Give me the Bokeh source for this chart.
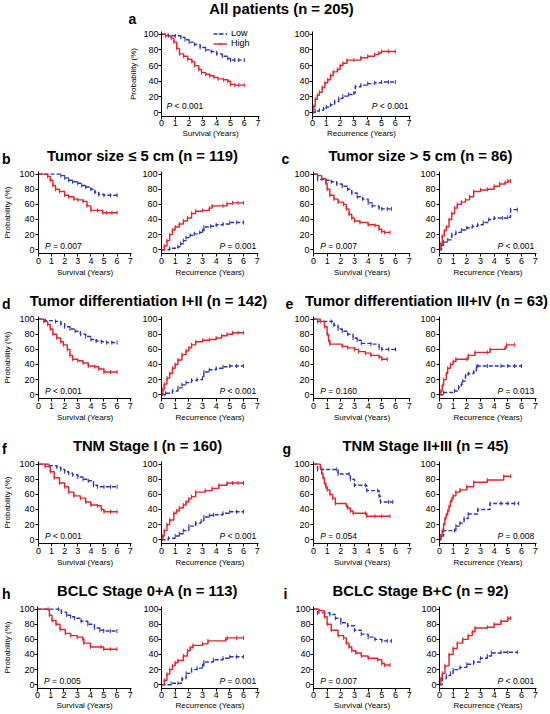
import math
from bokeh.plotting import figure
from bokeh.models import Range1d, FixedTicker, Label, Legend, LegendItem, Spacer
from bokeh.layouts import row, column
from bokeh.embed import file_html
from bokeh.resources import INLINE

# ---------------- data ----------------
X_TICKS = [0, 1, 2, 3, 4, 5, 6, 7]
Y_TICKS = [0, 20, 40, 60, 80, 100]
LEGEND_LABELS = ["Low", "High"]
PANEL_LETTERS = ["a", "b", "c", "d", "e", "f", "g", "h", "i"]
PANEL_TITLES = ["All patients (n = 205)", "Tumor size \u2264 5 cm (n = 119)", "Tumor size > 5 cm (n = 86)",
                "Tumor differentiation I+II (n = 142)", "Tumor differentiation III+IV (n = 63)",
                "TNM Stage I (n = 160)", "TNM Stage II+III (n = 45)",
                "BCLC Stage 0+A (n = 113)", "BCLC Stage B+C (n = 92)"]
P_SURVIVAL = ["< 0.001", "= 0.007", "= 0.007", "< 0.001", "= 0.160", "< 0.001", "= 0.054", "= 0.005", "= 0.007"]
P_RECURRENCE = ["< 0.001", "= 0.001", "< 0.001", "< 0.001", "= 0.013", "< 0.001", "= 0.008", "= 0.001", "< 0.001"]

A_OS_HIGH_T = [0, 0.3, 0.7, 0.9, 1.1, 1.3, 1.6, 1.9, 2.2, 2.4, 2.7, 2.9, 3.2, 3.5, 3.8, 4.1, 4.5, 4.8, 5.0, 5.3, 5.6, 6.0]
A_OS_HIGH_V = [100, 98, 95, 90, 82, 75, 72, 68, 65, 60, 55, 51, 49, 47, 45, 43, 42, 40, 36, 35, 35, 35]
A_OS_LOW_T = [0, 0.5, 1.0, 1.4, 1.7, 2.0, 2.4, 2.8, 3.2, 3.6, 4.0, 4.4, 4.8, 5.0, 5.3, 5.6, 6.0]
A_OS_LOW_V = [100, 98, 98, 96, 93, 90, 87, 83, 80, 78, 75, 72, 69, 67, 67, 67, 67]
A_REC_HIGH_T = [0, 0.1, 0.2, 0.35, 0.5, 0.7, 0.9, 1.1, 1.3, 1.5, 1.8, 2.0, 2.2, 2.5, 3.0, 3.5, 4.0, 4.5, 4.8, 5.0, 5.5, 6.0]
A_REC_HIGH_V = [0, 8, 17, 22, 26, 32, 38, 42, 47, 52, 55, 60, 63, 67, 67, 70, 72, 74, 76, 78, 78, 78]
A_REC_LOW_T = [0, 0.2, 0.5, 0.8, 1.0, 1.3, 1.6, 1.9, 2.2, 2.6, 3.0, 3.1, 3.5, 4.0, 4.5, 5.0, 5.5, 6.0]
A_REC_LOW_V = [0, 2, 3, 5, 7, 10, 14, 18, 21, 23, 25, 33, 35, 37, 38, 39, 39, 39]

B_OS_HIGH_T = [0, 0.7, 0.9, 1.1, 1.3, 1.6, 2.0, 2.3, 2.7, 3.0, 3.4, 3.7, 4.0, 4.5, 4.9, 5.2, 5.6, 6.0]
B_OS_HIGH_V = [100, 97, 92, 85, 80, 77, 72, 70, 67, 66, 64, 58, 52, 52, 49, 49, 49, 49]
B_OS_LOW_T = [0, 1.7, 2.0, 2.3, 2.6, 3.0, 3.3, 3.6, 4.0, 4.3, 4.6, 5.0, 5.5, 6.0]
B_OS_LOW_V = [100, 98, 95, 92, 90, 88, 85, 83, 80, 76, 73, 72, 72, 72]
B_REC_HIGH_T = [0, 0.2, 0.4, 0.6, 0.8, 1.0, 1.3, 1.6, 1.9, 2.2, 2.5, 3.0, 3.5, 3.7, 4.5, 4.8, 5.2, 5.6, 6.0]
B_REC_HIGH_V = [0, 5, 12, 20, 26, 30, 34, 38, 42, 48, 51, 52, 55, 58, 58, 61, 62, 62, 62]
B_REC_LOW_T = [0, 0.6, 1.2, 1.4, 1.6, 1.8, 2.1, 2.4, 2.8, 3.0, 3.1, 3.6, 4.0, 4.5, 5.0, 5.5, 6.0]
B_REC_LOW_V = [0, 2, 4, 8, 12, 16, 19, 21, 23, 25, 30, 31, 33, 34, 36, 36, 36]

C_OS_HIGH_T = [0, 0.3, 0.6, 0.9, 1.0, 1.2, 1.5, 1.8, 2.2, 2.4, 2.6, 2.8, 3.0, 3.4, 4.0, 4.5, 4.8, 5.0, 5.2, 5.6]
C_OS_HIGH_V = [100, 98, 94, 88, 80, 72, 67, 63, 60, 54, 47, 42, 38, 36, 33, 32, 27, 24, 23, 23]
C_OS_LOW_T = [0, 0.3, 0.9, 1.3, 1.7, 2.1, 2.5, 2.8, 3.2, 3.6, 4.0, 4.3, 4.8, 5.0, 5.4, 5.7]
C_OS_LOW_V = [100, 93, 92, 90, 87, 84, 80, 75, 70, 67, 62, 58, 55, 54, 54, 54]
C_REC_HIGH_T = [0, 0.1, 0.2, 0.35, 0.5, 0.7, 0.9, 1.1, 1.3, 1.6, 1.9, 2.2, 2.5, 3.0, 3.5, 4.0, 4.4, 4.8, 5.0, 5.2]
C_REC_HIGH_V = [0, 8, 18, 25, 30, 40, 48, 55, 60, 63, 66, 70, 77, 79, 80, 84, 87, 89, 91, 91]
C_REC_LOW_T = [0, 0.15, 0.3, 0.6, 0.9, 1.2, 1.6, 2.0, 2.4, 2.8, 3.2, 3.6, 4.0, 4.6, 5.0, 5.2, 5.7]
C_REC_LOW_V = [0, 6, 10, 13, 20, 23, 26, 29, 31, 33, 36, 40, 42, 42, 43, 53, 53]

D_OS_HIGH_T = [0, 0.4, 0.7, 0.9, 1.1, 1.4, 1.7, 1.9, 2.2, 2.4, 2.6, 3.0, 3.4, 3.8, 4.3, 4.6, 5.0, 5.5, 6.0]
D_OS_HIGH_V = [100, 97, 93, 87, 80, 75, 70, 66, 60, 52, 47, 45, 42, 38, 37, 34, 30, 30, 30]
D_OS_LOW_T = [0, 0.5, 1.3, 1.7, 2.0, 2.4, 2.8, 3.2, 3.6, 4.0, 4.4, 4.8, 5.2, 5.6, 6.0]
D_OS_LOW_V = [100, 98, 97, 94, 90, 87, 84, 80, 77, 73, 71, 70, 69, 69, 69]
D_REC_HIGH_T = [0, 0.1, 0.2, 0.4, 0.6, 0.8, 1.0, 1.2, 1.5, 1.8, 2.0, 2.2, 2.5, 3.0, 3.5, 4.0, 4.4, 4.8, 5.2, 5.6, 6.0]
D_REC_HIGH_V = [0, 7, 14, 22, 28, 35, 40, 46, 53, 58, 62, 66, 70, 72, 73, 75, 78, 80, 82, 82, 82]
D_REC_LOW_T = [0, 0.3, 0.8, 1.2, 1.5, 1.8, 2.2, 2.6, 3.0, 3.1, 3.5, 4.0, 4.5, 5.0, 5.5, 6.0]
D_REC_LOW_V = [0, 2, 5, 9, 13, 16, 19, 20, 22, 30, 33, 35, 37, 38, 38, 38]

E_OS_HIGH_T = [0, 0.5, 0.8, 1.0, 1.1, 1.2, 2.1, 2.5, 3.0, 3.3, 3.8, 4.2, 4.8, 5.0, 5.4]
E_OS_HIGH_V = [100, 97, 90, 80, 72, 67, 64, 62, 60, 57, 55, 52, 50, 47, 47]
E_OS_LOW_T = [0, 0.3, 1.3, 1.5, 1.8, 2.1, 2.5, 2.9, 3.2, 3.5, 4.2, 4.8, 5.0, 5.5, 6.0]
E_OS_LOW_V = [100, 97, 97, 92, 87, 84, 80, 75, 72, 68, 67, 62, 60, 60, 60]
E_REC_HIGH_T = [0, 0.1, 0.2, 0.3, 0.5, 0.6, 0.8, 1.0, 1.2, 2.0, 2.1, 2.6, 3.5, 3.7, 4.8, 4.9, 5.5]
E_REC_HIGH_V = [0, 5, 12, 20, 28, 35, 40, 44, 47, 47, 52, 56, 56, 60, 62, 66, 66]
E_REC_LOW_T = [0, 0.3, 1.1, 1.4, 1.6, 1.7, 1.9, 2.1, 2.5, 2.7, 2.8, 3.5, 4.5, 5.0, 5.5, 6.0]
E_REC_LOW_V = [0, 3, 5, 10, 14, 18, 25, 28, 30, 37, 38, 38, 38, 38, 38, 38]

F_OS_HIGH_T = [0, 0.5, 0.9, 1.2, 1.6, 2.0, 2.3, 2.7, 3.2, 3.6, 4.0, 4.5, 4.8, 5.0, 5.5, 6.0]
F_OS_HIGH_V = [100, 97, 90, 82, 75, 70, 63, 58, 55, 50, 46, 45, 40, 37, 37, 37]
F_OS_LOW_T = [0, 0.8, 1.4, 1.7, 2.0, 2.3, 2.6, 3.0, 3.4, 3.8, 4.2, 4.5, 5.0, 5.5, 6.0]
F_OS_LOW_V = [100, 98, 96, 93, 90, 88, 86, 83, 80, 78, 72, 70, 70, 70, 70]
F_REC_HIGH_T = [0, 0.1, 0.2, 0.4, 0.6, 0.9, 1.1, 1.3, 1.6, 1.8, 2.0, 2.2, 2.5, 3.2, 3.7, 4.2, 4.8, 5.2, 5.6, 6.0]
F_REC_HIGH_V = [0, 5, 12, 20, 26, 35, 38, 42, 46, 50, 54, 57, 63, 65, 68, 72, 75, 75, 75, 75]
F_REC_LOW_T = [0, 0.5, 1.0, 1.3, 1.6, 2.0, 2.5, 2.9, 3.1, 3.5, 3.8, 4.5, 5.0, 5.5, 6.0]
F_REC_LOW_V = [0, 2, 5, 8, 12, 18, 22, 25, 30, 32, 33, 35, 37, 37, 37]

G_OS_HIGH_T = [0, 0.5, 0.6, 0.7, 0.8, 0.9, 1.0, 1.2, 1.4, 1.6, 2.4, 2.5, 2.7, 2.9, 3.8, 3.9, 4.5, 5.0, 5.6]
G_OS_HIGH_V = [100, 95, 88, 82, 75, 70, 66, 60, 55, 48, 45, 42, 38, 35, 35, 31, 31, 31, 31]
G_OS_LOW_T = [0, 0.3, 1.7, 1.8, 2.6, 2.7, 3.0, 3.8, 3.9, 4.7, 4.8, 4.9, 5.5, 5.8]
G_OS_LOW_V = [100, 93, 93, 87, 87, 80, 72, 72, 65, 65, 58, 50, 50, 50]
G_REC_HIGH_T = [0, 0.1, 0.2, 0.3, 0.4, 0.5, 0.6, 0.7, 0.8, 0.9, 1.0, 1.2, 1.5, 2.0, 2.5, 3.5, 4.7, 5.2]
G_REC_HIGH_V = [0, 5, 12, 20, 28, 33, 38, 44, 50, 54, 58, 63, 66, 70, 76, 79, 84, 84]
G_REC_LOW_T = [0, 0.1, 0.3, 1.1, 1.2, 1.5, 1.8, 2.1, 2.8, 3.7, 4.5, 5.0, 5.5, 5.8]
G_REC_LOW_V = [0, 5, 12, 12, 18, 22, 28, 34, 40, 48, 48, 48, 48, 48]

H_OS_HIGH_T = [0, 0.8, 0.9, 1.1, 1.4, 1.7, 2.1, 2.5, 3.0, 3.4, 3.5, 4.0, 4.8, 5.0, 5.5, 6.0]
H_OS_HIGH_V = [100, 100, 92, 85, 80, 73, 68, 65, 63, 61, 55, 50, 50, 47, 47, 47]
H_OS_LOW_T = [0, 1.6, 1.8, 2.2, 2.5, 2.8, 3.3, 3.8, 4.3, 4.7, 5.0, 5.5, 6.0]
H_OS_LOW_V = [100, 100, 96, 92, 90, 88, 84, 80, 75, 72, 71, 71, 71]
H_REC_HIGH_T = [0, 0.2, 0.4, 0.6, 0.8, 1.0, 1.2, 1.6, 1.9, 2.1, 2.3, 3.0, 3.4, 4.7, 4.8, 5.5, 6.0]
H_REC_HIGH_V = [0, 6, 14, 20, 25, 29, 32, 38, 45, 49, 52, 54, 58, 60, 62, 62, 62]
H_REC_LOW_T = [0, 0.7, 1.2, 1.5, 1.8, 2.2, 2.6, 3.0, 3.1, 3.8, 4.5, 5.0, 5.5, 6.0]
H_REC_LOW_V = [0, 2, 2, 8, 15, 20, 22, 25, 30, 33, 35, 37, 37, 37]

I_OS_HIGH_T = [0, 0.4, 0.8, 1.0, 1.3, 1.8, 2.2, 2.4, 2.6, 2.8, 3.1, 3.5, 4.0, 4.7, 5.0, 5.2, 5.6]
I_OS_HIGH_V = [100, 98, 90, 80, 72, 65, 62, 55, 50, 45, 42, 38, 35, 33, 28, 26, 26]
I_OS_LOW_T = [0, 0.3, 1.2, 1.6, 2.0, 2.5, 3.0, 3.5, 4.0, 4.5, 5.0, 5.4, 5.7]
I_OS_LOW_V = [100, 95, 93, 88, 82, 78, 72, 67, 63, 60, 58, 58, 58]
I_REC_HIGH_T = [0, 0.1, 0.2, 0.4, 0.7, 1.0, 1.3, 1.7, 2.1, 2.4, 2.6, 3.5, 4.0, 4.5, 5.0, 5.2]
I_REC_HIGH_V = [0, 8, 15, 25, 40, 48, 55, 60, 65, 70, 75, 76, 80, 84, 88, 88]
I_REC_LOW_T = [0, 0.2, 0.5, 0.8, 1.0, 1.5, 2.0, 2.5, 3.0, 3.5, 3.8, 4.5, 5.0, 5.7]
I_REC_LOW_V = [0, 8, 12, 15, 20, 23, 27, 30, 35, 38, 42, 43, 43, 43]

# ---------------- styling / layout (pixel positions) ----------------
RED = "#e3242b"
BLUE = "#2a35b0"
FONT = "Liberation Sans"
G = globals()
TITLE_X = [281, 142, 420, 148, 426, 147, 425, 147, 420]
LETTER_X = [128, 1.5, 281, 1.5, 285, 1.5, 282, 1.5, 283]
TEXT_SHIFT = 6  # labels in the text strips render this much lower than their anchor


def km_fig(L, kind, xb, fxb, yb, fyb, xlabel, ylabel, ptxt, p_x, p_y, standoff=1,
           ylab_standoff=4, legend=False):
    x0, x1 = xb
    fx0, fx1 = fxb
    y0, y1 = yb
    fy0, fy1 = fyb
    p = figure(width=x1 - x0, height=y1 - y0, title=None,
               x_range=Range1d(0, 7.1), y_range=Range1d(-5, 103.5),
               output_backend="svg", toolbar_location=None,
               min_border_left=fx0 - x0, min_border_right=x1 - fx1,
               min_border_top=fy0 - y0, min_border_bottom=y1 - fy1)
    p.outline_line_color = None
    p.grid.visible = False
    p.background_fill_color = "white"
    p.border_fill_color = "white"
    p.xaxis.ticker = FixedTicker(ticks=X_TICKS)
    p.yaxis.ticker = FixedTicker(ticks=Y_TICKS)
    for ax in p.axis:
        ax.axis_line_color = "black"
        ax.axis_line_width = 1
        ax.major_tick_line_color = "black"
        ax.major_tick_in = 0
        ax.major_tick_out = 3
        ax.minor_tick_line_color = None
        ax.major_label_text_font = FONT
        ax.major_label_text_font_size = "9px"
        ax.major_label_text_color = "black"
        ax.major_label_standoff = standoff
        ax.axis_label_text_font = FONT
        ax.axis_label_text_font_size = "8px"
        ax.axis_label_text_font_style = "normal"
        ax.axis_label_text_color = "black"
        ax.axis_label_standoff = standoff
    p.xaxis.axis_label = xlabel
    if ylabel:
        p.yaxis.axis_label = ylabel
        p.yaxis.axis_label_standoff = ylab_standoff

    rends = {}
    for grp, color, dash in (("LOW", BLUE, "4 2"), ("HIGH", RED, "solid")):
        t = G[f"{L}_{kind}_{grp}_T"]
        v = G[f"{L}_{kind}_{grp}_V"]
        ln = p.step(t, v, mode="after", line_color=color, line_width=1.4, line_dash=dash)
        mk = p.scatter(t[1:], v[1:], marker="dash", angle=math.pi / 2, size=4,
                       line_color=color, line_width=1)
        rends[grp] = [ln, mk]

    lab_kw = dict(y=p_y, x=p_x, text_font=FONT, text_font_size="8.5px",
                  text_baseline="middle", text_color="black")
    p.add_layout(Label(text="P", text_font_style="italic", **lab_kw))
    p.add_layout(Label(text=ptxt, x_offset=8, **lab_kw))

    if legend:
        lg = Legend(items=[LegendItem(label=LEGEND_LABELS[0], renderers=rends["LOW"]),
                           LegendItem(label=LEGEND_LABELS[1], renderers=rends["HIGH"])],
                    location=(52, 68),
                    orientation="vertical", border_line_color=None, background_fill_alpha=0,
                    padding=0, margin=0, spacing=0, label_text_font=FONT,
                    label_text_font_size="9px", glyph_width=14, glyph_height=9,
                    label_height=9, label_standoff=4, label_text_color="black")
        p.add_layout(lg)
    return p


def text_fig(y0, y1, items):
    w = 548
    h = y1 - y0
    p = figure(width=w, height=h, title=None, x_range=Range1d(0, w), y_range=Range1d(h, 0),
               output_backend="svg", toolbar_location=None,
               x_axis_location=None, y_axis_location=None, min_border=0)
    p.outline_line_color = None
    p.grid.visible = False
    p.background_fill_color = "white"
    p.border_fill_color = "white"
    for txt, xr, yr, size, align in items:
        p.add_layout(Label(x=xr, y=yr - y0 - TEXT_SHIFT, text=txt,
                           text_align=align, text_baseline="alphabetic", text_font=FONT,
                           text_font_size=f"{size}px", text_font_style="bold",
                           text_color="black"))
    return p


# ---- top block: title + panel a ----
top_row = text_fig(0, 28, [(PANEL_LETTERS[0], LETTER_X[0], 24, 14, "left"),
                           (PANEL_TITLES[0], TITLE_X[0], 14, 14.8, "center")])

figA_L = km_fig("A", "OS", (126, 280), (160, 259), (28, 140), (31, 116),
                "Survival (Years)", "Probability (%)", P_SURVIVAL[0], 0.37, 9,
                standoff=0, ylab_standoff=2, legend=True)
figA_R = km_fig("A", "REC", (280, 430), (312, 410), (28, 140), (31, 116),
                "Recurrence (Years)", None, P_RECURRENCE[0], 4.3, 9, standoff=0)
row_a = row(Spacer(width=126, height=112, margin=0), figA_L, figA_R, spacing=0)


def panel_figs(idx, col, B, B_end, fbot, standoff):
    L = PANEL_LETTERS[idx].upper()
    if col == 0:
        fl, ffl = (0, 135), (33, 131)
        fr, ffr = (135, 275), (161, 258)
        ylab = "Probability (%)"
    else:
        fl, ffl = (275, 415), (313, 410)
        fr, ffr = (415, 548), (439, 536)
        ylab = None
    yb = (B + 28, B_end)
    fyb = (B + 31, fbot)
    f1 = km_fig(L, "OS", fl, ffl, yb, fyb, "Survival (Years)", ylab, P_SURVIVAL[idx], 0.5, 4.5,
                standoff=standoff)
    f2 = km_fig(L, "REC", fr, ffr, yb, fyb, "Recurrence (Years)", None, P_RECURRENCE[idx], 4.25, 4.5,
                standoff=standoff)
    return [f1, f2]


rows = [top_row, row_a]
blocks = [(140, 285, 253, 1), (285, 430, 398, 1), (430, 575, 543, 1), (575, 713, 688, 0)]
for k, (B, Be, fbot, so) in enumerate(blocks):
    il, ir = 1 + 2 * k, 2 + 2 * k
    tf = text_fig(B, B + 28, [(PANEL_LETTERS[il], LETTER_X[il], B + 24.5, 14, "left"),
                              (PANEL_TITLES[il], TITLE_X[il], B + 21, 14.8, "center"),
                              (PANEL_LETTERS[ir], LETTER_X[ir], B + 24.5, 14, "left"),
                              (PANEL_TITLES[ir], TITLE_X[ir], B + 21, 14.8, "center")])
    figs = panel_figs(il, 0, B, Be, fbot, so) + panel_figs(ir, 1, B, Be, fbot, so)
    rows.append(tf)
    rows.append(row(*figs, spacing=0))

layout = column(*rows, spacing=0)

with open("out.html", "w", encoding="utf-8") as fh:
    fh.write(file_html(layout, INLINE))
